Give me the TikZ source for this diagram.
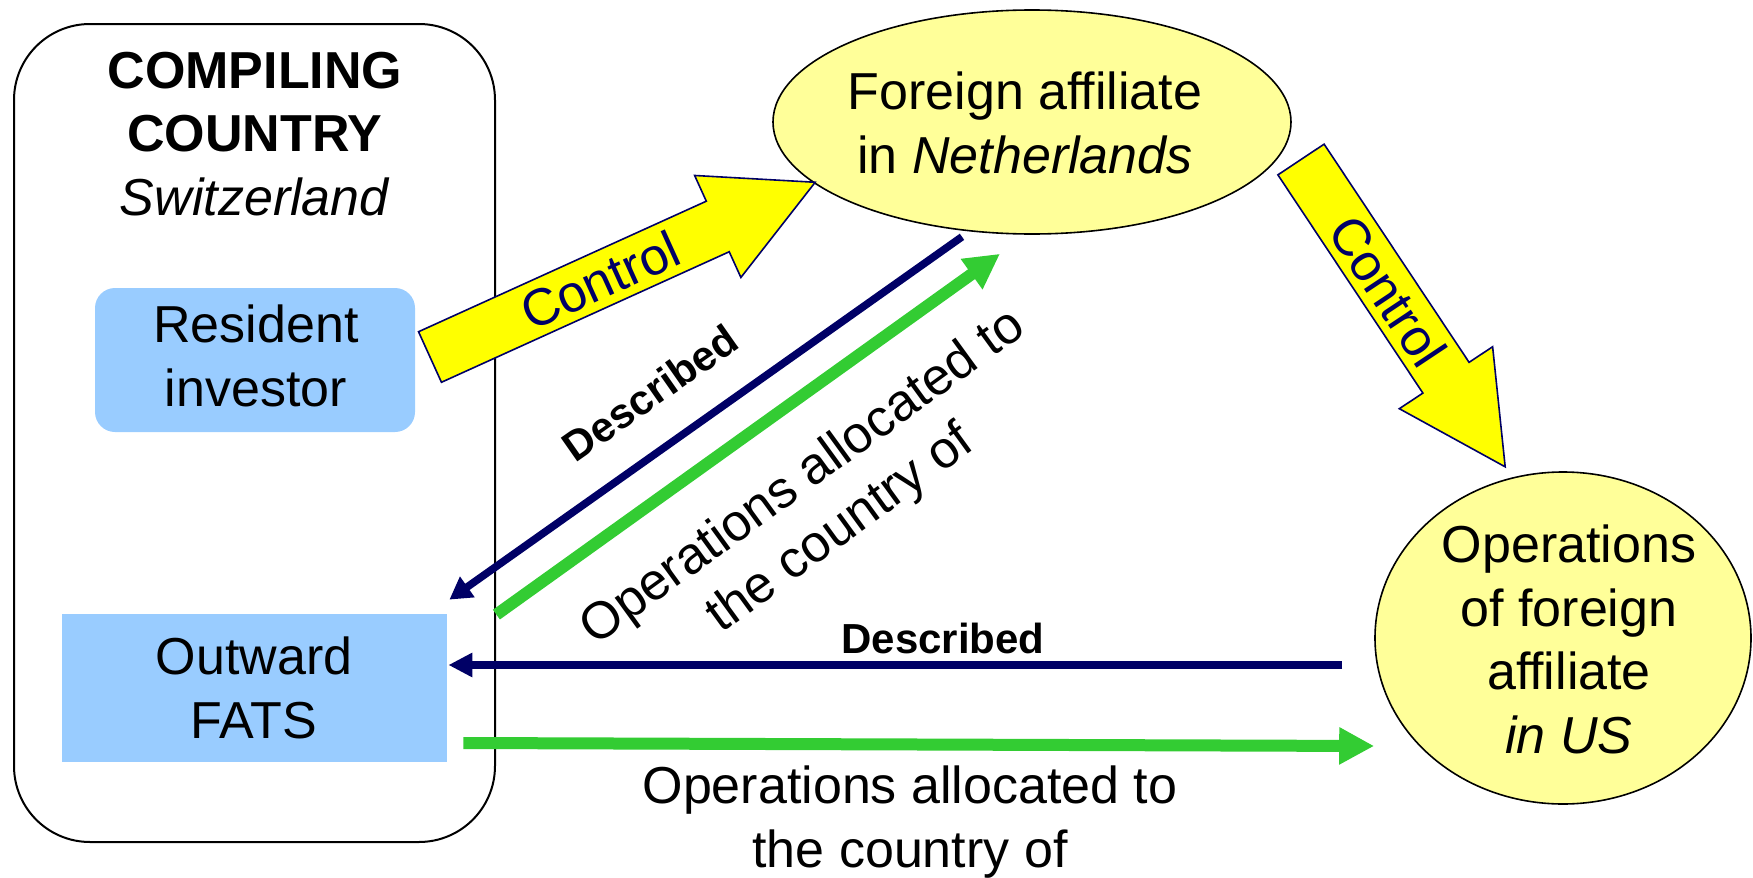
\documentclass[tikz,border=0pt]{standalone}
\usepackage{fontspec}
\setmainfont{Liberation Sans}
\usetikzlibrary{arrows.meta,shapes.geometric}

\definecolor{navy}{RGB}{0,0,102}
\definecolor{flowgreen}{RGB}{51,204,51}
\definecolor{boxblue}{RGB}{153,204,255}
\definecolor{paleyellow}{RGB}{255,255,153}
\definecolor{ctrlyellow}{RGB}{255,255,0}

\begin{document}
\begin{tikzpicture}[x=0.5pt,y=-0.5pt,
  txt/.style={font=\fontsize{26}{31.75}\selectfont, align=center, inner sep=0pt},
  desctxt/.style={font=\fontsize{21}{25}\selectfont\bfseries, inner sep=0pt},
  ctrltxt/.style={font=\fontsize{26}{31.75}\selectfont, text=navy, inner sep=0pt},
  countrybox/.style={draw=black, line width=1pt, rounded corners=38pt, inner sep=0pt},
  bluebox/.style={fill=boxblue, draw=none, inner sep=0pt},
  bubble/.style={ellipse, fill=paleyellow, draw=black, line width=0.8pt, inner sep=0pt},
  ctrlarrow/.style={fill=ctrlyellow, draw=navy, line width=0.8pt, line join=miter},
  navyline/.style={draw=navy, line width=3.8pt},
  greenline/.style={draw=flowgreen, line width=6pt},
]
\useasboundingbox (0,0) rectangle (1753,878);

% compiling country frame and its boxes
\node[countrybox, minimum width=240.5pt, minimum height=409pt] (country) at (254.5,433) {};
\node[bluebox, rounded corners=10pt, minimum width=160pt, minimum height=72pt] (investor) at (255,360) {};
\node[bluebox, minimum width=192.5pt, minimum height=74pt] (fats) at (254.5,688) {};

% affiliates
\node[bubble, minimum width=259pt, minimum height=112pt] (nl) at (1032,122) {};
\node[bubble, minimum width=188pt, minimum height=166pt] (us) at (1563,638) {};

% texts
\node[txt] (title) at (255,139) {\strut\textbf{COMPILING}\\\strut\textbf{COUNTRY}\\\strut\textit{Switzerland}};
\node[txt] (investortext) at (256,362) {\strut Resident\\\strut investor};
\node[txt] (fatstext) at (254,694) {\strut Outward\\\strut FATS};
\node[txt] (nltext) at (1025,129) {\strut Foreign affiliate\\\strut in \textit{Netherlands}};
\node[txt] (ustext) at (1569,645.5) {\strut Operations\\\strut of foreign\\\strut affiliate\\\strut\textit{in US}};

% control block arrows
\begin{scope}[shift={(430,357)}, rotate=24.4]
  \draw[ctrlarrow] (0,-27.75) -- (316,-27.75) -- (316,-56) -- (423,0)
    -- (316,56) -- (316,27.75) -- (0,27.75) -- cycle;
\end{scope}
\begin{scope}[shift={(1301,159.5)}, rotate=-56.4]
  \draw[ctrlarrow] (0,-27.75) -- (262,-27.75) -- (262,-56) -- (369,0)
    -- (262,56) -- (262,27.75) -- (0,27.75) -- cycle;
\end{scope}
\node[ctrltxt, rotate=24.4] (ctrlA) at (600,280) {Control};
\node[ctrltxt, rotate=-56.4] (ctrlB) at (1388,291) {Control};

% described / allocated flows
\draw[navyline, -{Triangle[length=11pt,width=12pt]}]
  ([shift={(-70,2)}]nl.south) -- ([shift={(2,-14)}]fats.north east);
\draw[greenline, -{Triangle[length=17.5pt,width=17.5pt]}]
  ([shift={(49,1)}]fats.north east) -- ([shift={(-32,19)}]nl.south);
\draw[navyline, -{Triangle[length=12pt,width=11.5pt]}]
  ([shift={(-32,27)}]us.west) -- ([shift={(1,-23)}]fats.east);
\draw[greenline, -{Triangle[length=17.5pt,width=17.5pt]}]
  ([shift={(16,55)}]fats.east) -- ([shift={(0,108)}]us.west);

\node[desctxt, rotate=35] (descA) at (650,393) {Described};
\node[txt, rotate=36] (opsA) at (823,505) {\strut Operations allocated to\\\strut the country of};
\node[desctxt, anchor=base] (descB) at (943,653) {Described};
\node[txt] (opsB) at (910,823) {\strut Operations allocated to\\\strut the country of};
\end{tikzpicture}
\end{document}
